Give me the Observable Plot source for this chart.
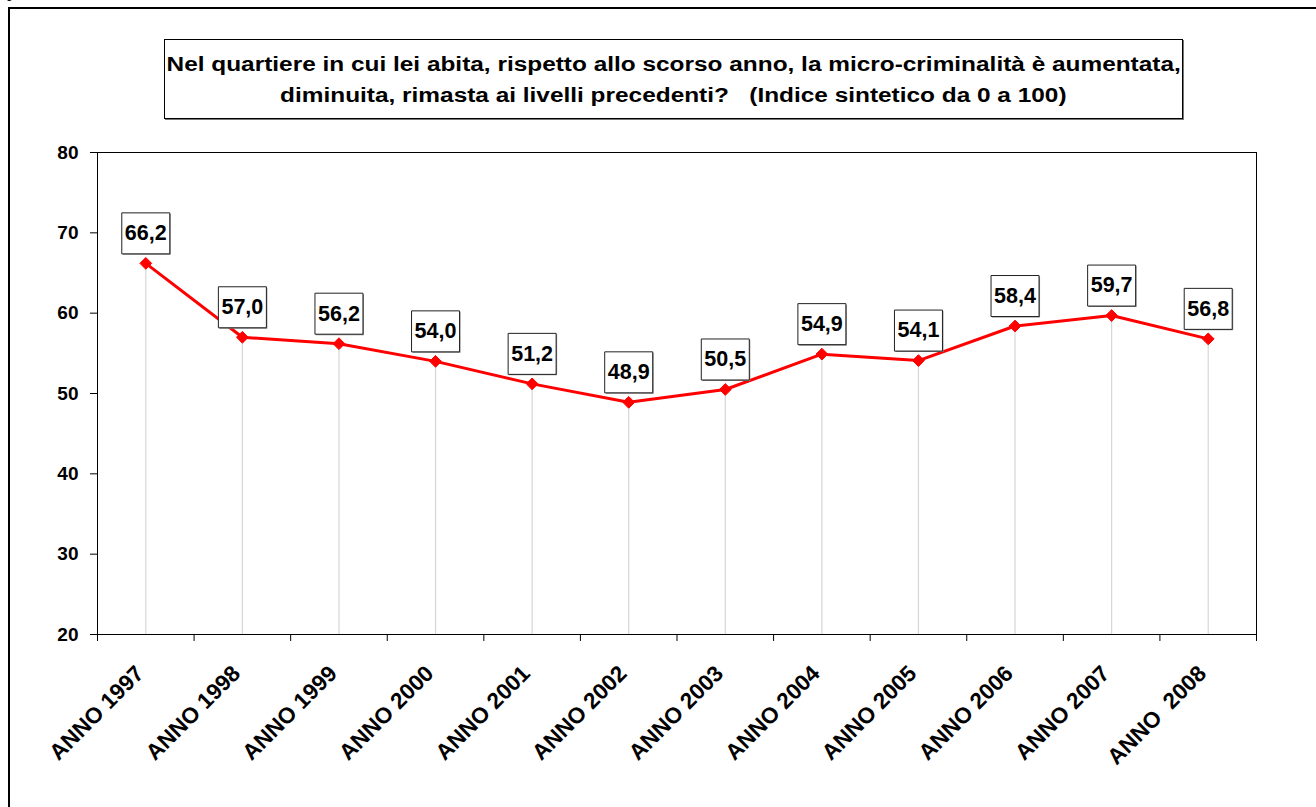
<!DOCTYPE html>
<html>
<head>
<meta charset="utf-8">
<script src="https://cdn.jsdelivr.net/npm/d3@7"></script>
<script src="https://cdn.jsdelivr.net/npm/@observablehq/plot@0.6"></script>
<style>
  html, body { margin: 0; padding: 0; background: #fff; overflow: hidden; }
  #wrap { position: relative; width: 1316px; height: 807px; overflow: hidden; background: #fff; }
  #frame { position: absolute; left: 8px; top: 7px; width: 1330px; height: 830px; border-top: 2px solid #000; border-left: 2px solid #000; }
  #pmark { position: absolute; left: 7px; top: -18px; font-family: "Liberation Serif", "DejaVu Serif", serif; font-size: 18px; line-height: 18px; color: #000; }
  #title { position: absolute; left: 164px; top: 39px; width: 1019px; height: 80px; border: 1px solid #000; box-shadow: 1px 1px 0 #777;
           background: #fff; box-sizing: border-box; padding-top: 9px; text-align: center;
           font-family: "Liberation Sans", Arial, sans-serif; font-weight: bold; font-size: 20px; line-height: 30.5px; color: #000; }
  #title span { display: inline-block; transform: scaleX(1.22); transform-origin: 50% 50%; white-space: nowrap; }
  #chart { position: absolute; left: 0; top: 0; }
  #chart svg text { white-space: pre; }
</style>
</head>
<body>
<div id="wrap">
  <div id="pmark">p</div>
  <div id="frame"></div>
  <div id="chart"></div>
  <div id="title"><span>Nel quartiere in cui lei abita, rispetto allo scorso anno, la micro-criminalità è aumentata,</span><br><span>diminuita, rimasta ai livelli precedenti?&nbsp;&nbsp; (Indice sintetico da 0 a 100)</span></div>
</div>
<script>
const categories = ["ANNO 1997", "ANNO 1998", "ANNO 1999", "ANNO 2000", "ANNO 2001", "ANNO 2002",
                    "ANNO 2003", "ANNO 2004", "ANNO 2005", "ANNO 2006", "ANNO 2007", "ANNO  2008"];
const values = [66.2, 57.0, 56.2, 54.0, 51.2, 48.9, 50.5, 54.9, 54.1, 58.4, 59.7, 56.8];
const valueLabels = ["66,2", "57,0", "56,2", "54,0", "51,2", "48,9", "50,5", "54,9", "54,1", "58,4", "59,7", "56,8"];
const yTicks = [20, 30, 40, 50, 60, 70, 80];

const data = categories.map((c, i) => ({cat: c, value: values[i], label: valueLabels[i]}));

const W = 1316, H = 807, ML = 97, MR = 60, MT = 152, MB = 173;
const bw = (W - ML - MR) / categories.length;
const font = "'Liberation Sans', Arial, sans-serif";

const boxSymbol = {draw(ctx) { ctx.rect(-24, -20.5, 48, 41); }};
const shadowSymbol = {draw(ctx) { ctx.rect(-23, -19.5, 48, 41); }};

const chart = Plot.plot({
  width: W, height: H,
  marginLeft: ML, marginRight: MR, marginTop: MT, marginBottom: MB,
  style: {fontFamily: font, background: "transparent", color: "#000"},
  x: {type: "band", domain: categories, padding: 0, round: false, axis: null},
  y: {domain: [20, 80], axis: null},
  marks: [
    // drop lines
    Plot.ruleX(data, {x: "cat", y1: 20, y2: "value", stroke: "#d6d6d6", strokeWidth: 1.2}),
    // plot area frame
    Plot.frame({stroke: "#000", strokeWidth: 1}),
    // y axis
    Plot.axisY({ticks: yTicks, tickSize: 7, tickPadding: 12, tickFormat: d => String(d), label: null,
                fontSize: 19, fontWeight: "bold", fill: "#000", stroke: "#000", strokeOpacity: 1}),
    // x boundary ticks
    Plot.ruleX(categories, {x: d => d, y1: 20, y2: 19.13, dx: -bw / 2, stroke: "#000"}),
    Plot.ruleX(categories.slice(-1), {x: d => d, y1: 20, y2: 19.13, dx: bw / 2, stroke: "#000"}),
    // x labels
    Plot.text(categories, {x: d => d, y: 20, text: d => d, rotate: -45, textAnchor: "end", lineAnchor: "top",
                           dx: -12, dy: 29, fontSize: 22.5, fontWeight: "bold", fill: "#000"}),
    // series
    Plot.line(data, {x: "cat", y: "value", stroke: "#ff0000", strokeWidth: 3}),
    Plot.dot(data, {x: "cat", y: "value", symbol: "diamond2", r: 5.3, fill: "#ff0000", stroke: "#ff0000", strokeWidth: 1}),
    // data label boxes
    Plot.dot(data, {x: "cat", y: "value", dy: -30, symbol: shadowSymbol, r: 1, fill: "#8a8a8a", stroke: "none"}),
    Plot.dot(data, {x: "cat", y: "value", dy: -30, symbol: boxSymbol, r: 1, fill: "#fff", stroke: "#222", strokeWidth: 1}),
    Plot.text(data, {x: "cat", y: "value", dy: -30, text: "label", lineAnchor: "middle",
                     fontSize: 21.5, fontWeight: "bold", fill: "#000"})
  ]
});
document.getElementById("chart").appendChild(chart);
</script>
</body>
</html>
